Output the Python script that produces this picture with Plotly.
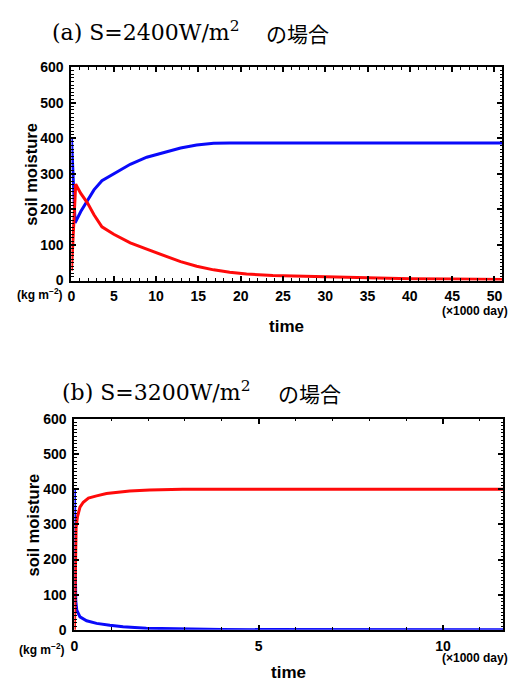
import plotly.graph_objects as go

# ---------------- data ----------------
# (a) S=2400 W/m^2   time in 1000 days, soil moisture in kg m^-2
time_a_blue = [0, 0.43, 1.1, 1.9, 2.66, 3.6, 5, 6.95, 8.9, 10.9, 12.9, 14.8, 16.8, 18.7, 20.7, 25, 30, 40, 51]
blue_a = [400, 162, 194, 227, 255, 281, 301, 327, 347, 360, 373, 381, 386, 387, 387, 387, 387, 387, 387]
time_a_red = [0, 0.5, 1.1, 1.9, 2.66, 3.6, 5, 6.95, 8.9, 10.9, 12.9, 14.8, 16.8, 18.7, 20.7, 23.8, 27, 30, 35, 40, 45, 51]
red_a = [28, 271, 245, 218, 185, 151, 130, 106, 88, 70, 53, 40, 30, 23, 18.5, 14, 12, 10, 7, 5, 4, 3]

# (b) S=3200 W/m^2
time_b_blue = [0, 0.01, 0.02, 0.035, 0.063, 0.15, 0.33, 0.6, 0.96, 1.32, 1.95, 2.93, 4, 11.64]
blue_b = [400, 300, 180, 83, 56, 37, 26, 18.5, 13, 9, 4.6, 2, 0.8, 0]
time_b_red = [0, 0.02, 0.045, 0.08, 0.15, 0.24, 0.38, 0.6, 0.87, 1.5, 2.04, 2.93, 5, 8, 11.64]
red_b = [0, 180, 290, 321, 349, 363, 375, 381, 388, 395, 398, 400, 400, 400, 400]

y_ticks = [0, 100, 200, 300, 400, 500, 600]
x_ticks_a = [0, 5, 10, 15, 20, 25, 30, 35, 40, 45, 50]
x_ticks_b = [0, 5, 10]

title_a_latin = "(a) S=2400W/m<sup>2</sup>"
title_b_latin = "(b) S=3200W/m<sup>2</sup>"
title_jp = "の場合"
y_title = "soil moisture"
x_title = "time"
y_unit = "(kg m<sup>−2</sup>)"
x_unit = "(×1000 day)"

# ---------------- layout helpers ----------------
W, H = 512, 687


def px(x):
    return x / W


def py(y):
    return 1 - y / H


BLUE = "rgb(10,10,250)"
RED = "rgb(255,10,10)"
SANS = "Liberation Sans, Arial, sans-serif"
SERIF = "DejaVu Serif, serif"
JP = "Noto Sans CJK JP, sans-serif"

fig = go.Figure()
fig.add_trace(go.Scatter(x=time_a_blue, y=blue_a, mode="lines", line=dict(color=BLUE, width=3),
                         xaxis="x", yaxis="y", showlegend=False))
fig.add_trace(go.Scatter(x=time_a_red, y=red_a, mode="lines", line=dict(color=RED, width=3),
                         xaxis="x", yaxis="y", showlegend=False))
fig.add_trace(go.Scatter(x=time_b_blue, y=blue_b, mode="lines", line=dict(color=BLUE, width=3),
                         xaxis="x2", yaxis="y2", showlegend=False))
fig.add_trace(go.Scatter(x=time_b_red, y=red_b, mode="lines", line=dict(color=RED, width=3),
                         xaxis="x2", yaxis="y2", showlegend=False))

tickfont = dict(family=SANS, size=14, color="black", weight="bold")

common_axis = dict(showline=True, linecolor="black", linewidth=2, mirror="allticks",
                   ticks="inside", ticklen=5, tickwidth=1.5, tickcolor="black",
                   showgrid=False, zeroline=False, tickfont=tickfont, fixedrange=True)

fig.update_layout(
    width=W, height=H,
    margin=dict(l=0, r=0, t=0, b=0),
    paper_bgcolor="white", plot_bgcolor="white",
    xaxis=dict(domain=[px(68), px(502)], range=[0, 50.9], anchor="y",
               tickvals=x_ticks_a, ticklabelstandoff=2,
               minor=dict(ticks="inside", dtick=1, ticklen=2.5, tickwidth=1, tickcolor="black"),
               **common_axis),
    yaxis=dict(domain=[py(279), py(60.7)], range=[0, 600], anchor="x",
               tickvals=y_ticks, ticklabelstandoff=3,
               minor=dict(ticks="inside", dtick=10, ticklen=2.5, tickwidth=1, tickcolor="black"),
               **common_axis),
    xaxis2=dict(domain=[px(71), px(503.3)], range=[0, 11.64], anchor="y2",
                tickvals=x_ticks_b, ticklabelstandoff=2,
                minor=dict(ticks="inside", dtick=1, ticklen=2.5, tickwidth=1, tickcolor="black"),
                **common_axis),
    yaxis2=dict(domain=[py(636.7), py(420.7)], range=[0, 600], anchor="x2",
                tickvals=y_ticks, ticklabelstandoff=3,
                minor=dict(ticks="inside", dtick=10, ticklen=2.5, tickwidth=1, tickcolor="black"),
                **common_axis),
)


def ann(text, x, y, size, family=SANS, xanchor="center", yanchor="middle", angle=0, bold=True):
    fig.add_annotation(text=text, x=px(x), y=py(y), xref="paper", yref="paper",
                       xanchor=xanchor, yanchor=yanchor, showarrow=False, textangle=angle,
                       font=dict(family=family, size=size, color="black",
                                 weight="bold" if bold else "normal"))


# titles
ann(title_a_latin, 46, 24, 22, family=SERIF, xanchor="left", bold=False)
ann(title_jp, 262, 26, 21, family=JP, xanchor="left", bold=False)
ann(title_b_latin, 56, 392, 22, family=SERIF, xanchor="left", bold=False)
ann(title_jp, 274, 394, 21, family=JP, xanchor="left", bold=False)

# axis titles / units, panel (a)
ann(y_title, 27, 170, 16.5, angle=-90)
ann(y_unit, 36, 293, 12)
ann(x_unit, 510, 310, 12, xanchor="right")
ann(x_title, 285, 326, 17)

# panel (b)
ann(y_title, 29, 529, 16.5, angle=-90)
ann(y_unit, 38, 656, 12)
ann(x_unit, 510, 665, 12, xanchor="right")
ann(x_title, 287, 680, 17)

fig.write_html(
    "out.html",
    config={"displayModeBar": False},
    post_script="document.documentElement.style.margin='0';document.body.style.margin='0';"
                "document.body.style.padding='0';document.body.style.overflow='hidden';",
)
